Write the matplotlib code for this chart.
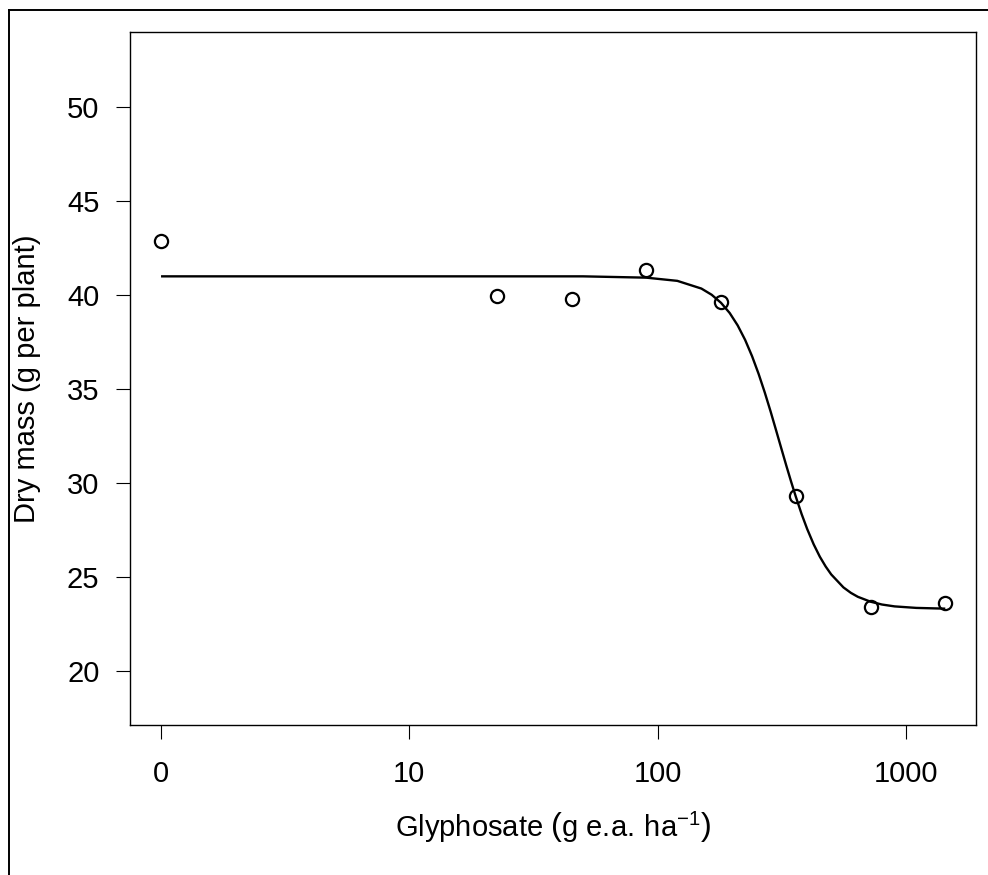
import matplotlib.pyplot as plt
from matplotlib.lines import Line2D

plt.rcParams['font.family'] = ['Liberation Sans', 'DejaVu Sans']
plt.rcParams['mathtext.fontset'] = 'custom'
plt.rcParams['mathtext.rm'] = 'Liberation Sans'
plt.rcParams['mathtext.it'] = 'Liberation Sans:italic'

# observed means (dose 0 is drawn at 1 on the log axis)
doses = [0, 22.5, 45, 90, 180, 360, 720, 1440]
dry_mass = [42.87, 39.95, 39.79, 41.33, 39.63, 29.31, 23.4, 23.62]

# fitted curve, values
curve_x = [1, 10, 50, 90, 120, 150, 165, 180, 195, 210, 225, 240, 255, 270, 285,
           300, 315, 330, 345, 360, 380, 400, 425, 450, 475, 500, 560, 600, 640,
           720, 800, 900, 1100, 1440]
curve_y = [41.0, 41.0, 41.0, 40.93, 40.76, 40.35, 40.02, 39.59, 39.05, 38.39, 37.62,
           36.75, 35.81, 34.82, 33.81, 32.80, 31.83, 30.91, 30.06, 29.28, 28.35,
           27.56, 26.74, 26.08, 25.56, 25.14, 24.45, 24.16, 23.95, 23.69, 23.54,
           23.44, 23.36, 23.32]

x_ticks = [1, 10, 100, 1000]
x_labels = ['0', '10', '100', '1000']
y_ticks = [20, 25, 30, 35, 40, 45, 50]

fig = plt.figure(figsize=(9.88, 8.75), dpi=100)
ax = fig.add_axes([130 / 988, 1 - 725 / 875, 846 / 988, 693 / 875])

plot_x = [d if d > 0 else 1 for d in doses]
ax.plot(curve_x, curve_y, color='black', lw=1.7, solid_capstyle='butt')
ax.plot(plot_x, dry_mass, 'o', mfc='none', mec='black', ms=9.5, mew=1.6)

ax.set_xscale('log')
ax.set_xlim(10 ** -0.125, 10 ** 3.282)
ax.set_ylim(17.13, 54.0)
ax.set_xticks(x_ticks)
ax.set_xticklabels(x_labels)
ax.minorticks_off()
ax.set_yticks(y_ticks)
ax.tick_params(direction='out', length=10, width=0.8, labelsize=21)
ax.tick_params(axis='x', pad=15.5)
ax.tick_params(axis='y', pad=12)
for s in ax.spines.values():
    s.set_linewidth(1.0)

fig.text(553 / 988, 1 - 837 / 875,
         r'Glyphosate $\left(\mathrm{g\ e.\!a.\!\ ha}^{-1}\right)$',
         fontsize=21, ha='center', va='baseline')
fig.text(35 / 988, 1 - 378.5 / 875, 'Dry mass (g per plant)', fontsize=21,
         rotation=90, rotation_mode='anchor', ha='center', va='baseline')

# outer frame (only left and top edges visible)
fig.add_artist(Line2D([8.5 / 988, 8.5 / 988], [0, 1 - 9.5 / 875], color='black', lw=1.4,
                      transform=fig.transFigure))
fig.add_artist(Line2D([8.5 / 988, 1], [1 - 9.5 / 875, 1 - 9.5 / 875], color='black', lw=1.4,
                      transform=fig.transFigure))

fig.savefig('out.png', dpi=100)
